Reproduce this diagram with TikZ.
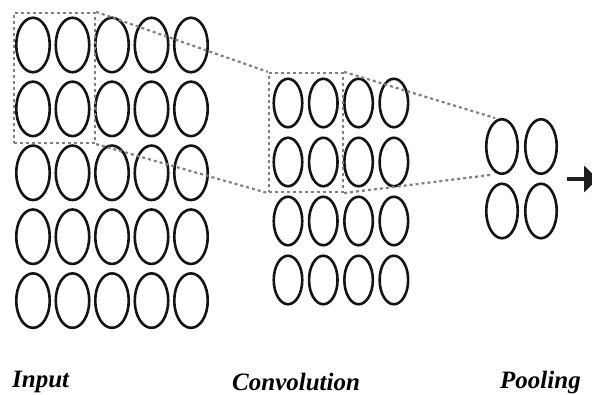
\documentclass[tikz,border=0pt]{standalone}
\usepackage{fontspec}
\setmainfont{Liberation Serif}
\usetikzlibrary{arrows.meta,shapes.geometric}
\begin{document}
\begin{tikzpicture}[x=1pt,y=-1pt,
  neu/.style={draw=black!92,line width=2.6pt,ellipse,inner sep=0pt},
  ineu/.style={neu,minimum width=33.5pt,minimum height=54.5pt},
  cneu/.style={neu,minimum width=28.5pt,minimum height=48.5pt},
  pneu/.style={neu,minimum width=31.5pt,minimum height=54.5pt},
  dline/.style={draw=black!50,line width=2.2pt,dash pattern=on 3pt off 3pt},
  dbox/.style={dline,rectangle,inner sep=0pt},
  lbl/.style={font=\fontsize{25}{30}\selectfont\bfseries\itshape,anchor=base west,inner sep=0pt}]
\useasboundingbox (0,0) rectangle (592,394);
\clip (0,0) rectangle (592,394);
\fill[white] (0,0) rectangle (592,394);
% input layer
\foreach \r in {0,...,4}
  \foreach \c in {0,...,4}
    \node[ineu] (i-\r-\c) at ({33+39.5*\c},{45+63.9*\r}) {};
% convolution layer
\foreach \r in {0,...,3}
  \foreach \c in {0,...,3}
    \node[cneu] (c-\r-\c) at ({288+35.3*\c},{103+59*\r}) {};
% pooling layer
\foreach \r/\y in {0/146.5,1/211}
  \foreach \c/\x in {0/502,1/541}
    \node[pneu] (p-\r-\c) at (\x,\y) {};
% receptive field boxes
\node[dbox,minimum width=81pt,minimum height=130pt] (ibox) at (54.5,78) {};
\node[dbox,minimum width=74pt,minimum height=119pt] (cbox) at (306,132.5) {};
\coordinate (pt) at (495,118);
\coordinate (pb) at (490,175);
\draw[dline] (ibox.north east) -- (cbox.north west);
\draw[dline] (ibox.south east) -- (cbox.south west);
\draw[dline] (cbox.north east) -- (pt);
\draw[dline] (cbox.south east) -- (pb);
% output arrow
\coordinate (as) at (567,179);
\coordinate (ae) at (598,179);
\draw[line width=4pt,black!88,-{Triangle[length=14pt,width=26pt]}] (as) -- (ae);
% labels
\node[lbl] (lin) at (12,387) {Input};
\node[lbl] (lconv) at (232,390) {Convolution};
\node[lbl] (lpool) at (500,388) {Pooling};
\end{tikzpicture}
\end{document}
